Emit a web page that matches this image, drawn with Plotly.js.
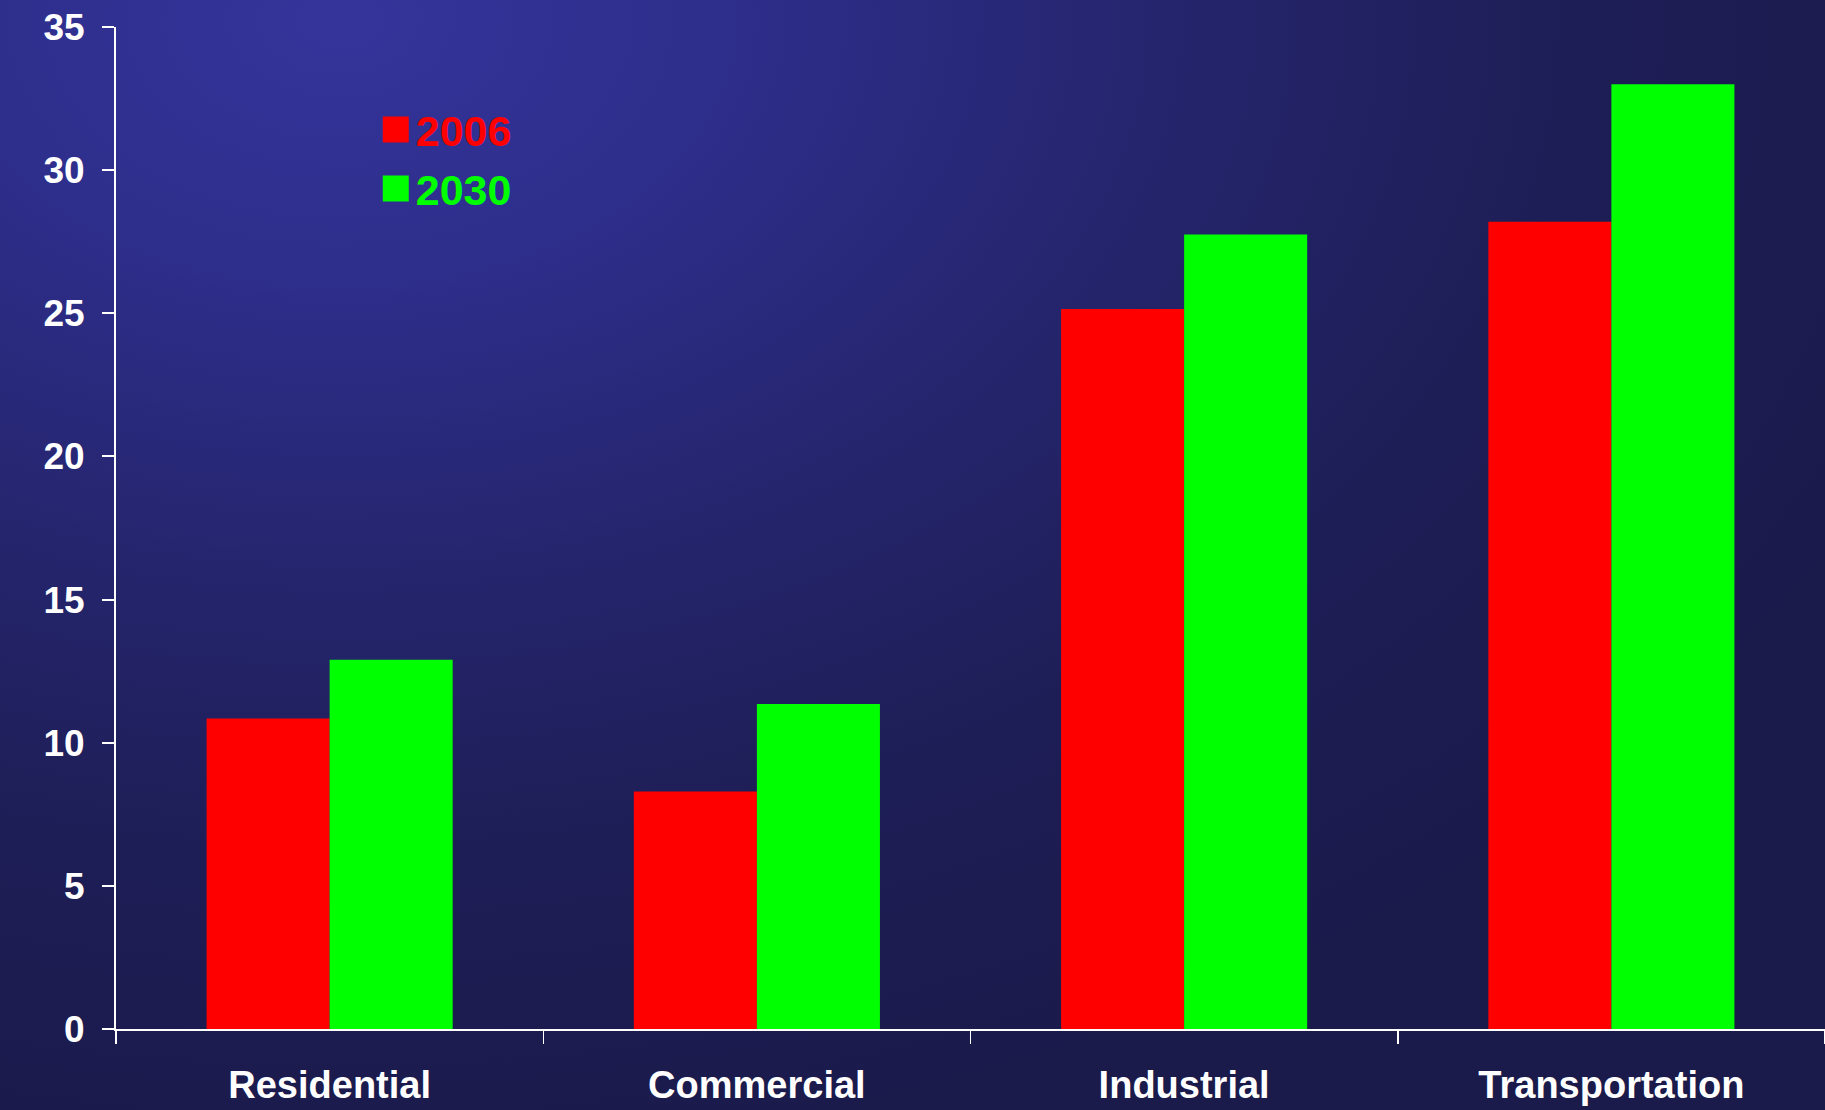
<!DOCTYPE html>
<html>
<head>
<meta charset="utf-8">
<script src="https://cdn.plot.ly/plotly-3.0.1.min.js"></script>
<style>
  html, body { margin: 0; padding: 0; width: 1825px; height: 1110px; overflow: hidden; }
  body {
    background: radial-gradient(ellipse 1700px 1150px at 340px 20px, #34349b 0%, #2e2e8c 22%, #25256e 48%, #1e1e57 72%, #1a1a4b 100%);
  }
  #chart { width: 1825px; height: 1110px; }
</style>
</head>
<body>
<div id="chart"></div>
<script>
const categories = ["Residential", "Commercial", "Industrial", "Transportation"];
const seriesNames = ["2006", "2030"];
const values2006 = [10.85, 8.3, 25.15, 28.2];
const values2030 = [12.9, 11.35, 27.75, 33.0];
const yTickVals = [0, 5, 10, 15, 20, 25, 30, 35];

const red = "#ff0000";
const green = "#00ff00";

const traces = [
  {
    type: "bar",
    x: categories,
    y: values2006,
    name: '<span style="color:' + red + '">' + seriesNames[0] + '</span>',
    marker: { color: red, line: { width: 0 } },
    hoverinfo: "x+y"
  },
  {
    type: "bar",
    x: categories,
    y: values2030,
    name: '<span style="color:' + green + '">' + seriesNames[1] + '</span>',
    marker: { color: green, line: { width: 0 } },
    hoverinfo: "x+y"
  }
];

const layout = {
  width: 1825,
  height: 1110,
  margin: { l: 116, r: 0, t: 27, b: 81, pad: 0 },
  paper_bgcolor: "rgba(0,0,0,0)",
  plot_bgcolor: "rgba(0,0,0,0)",
  barmode: "group",
  bargap: 0.424,
  bargroupgap: 0,
  showlegend: true,
  legend: {
    x: 0.152,
    y: 0.932,
    xanchor: "left",
    yanchor: "top",
    bgcolor: "rgba(0,0,0,0)",
    borderwidth: 0,
    traceorder: "normal",
    font: { family: "Liberation Sans, Arial, sans-serif", size: 43, weight: "bold", color: "#ffffff" }
  },
  xaxis: {
    type: "category",
    range: [-0.5, 3.5],
    showline: true,
    linecolor: "#ffffff",
    linewidth: 2,
    ticks: "outside",
    tickson: "boundaries",
    ticklen: 13,
    tickwidth: 1.5,
    tickcolor: "#ffffff",
    showgrid: false,
    zeroline: false,
    ticklabelstandoff: 21,
    tickfont: { family: "Liberation Sans, Arial, sans-serif", size: 38, weight: "bold", color: "#ffffff" }
  },
  yaxis: {
    range: [0, 35],
    tickvals: yTickVals,
    showline: true,
    linecolor: "#ffffff",
    linewidth: 2,
    ticks: "outside",
    ticklen: 12,
    tickwidth: 2,
    tickcolor: "#ffffff",
    showgrid: false,
    zeroline: false,
    ticklabelstandoff: 10,
    tickfont: { family: "Liberation Sans, Arial, sans-serif", size: 37, weight: "bold", color: "#ffffff" }
  }
};

Plotly.newPlot("chart", traces, layout, { displayModeBar: false, staticPlot: true }).then(function (gd) {
  // enlarge the legend swatches to match the reference's big squares
  document.querySelectorAll("#chart .legend .legendpoints path").forEach(function (p) {
    p.setAttribute("d", "M13,13H-13V-13H13Z");
  });
});
</script>
</body>
</html>
